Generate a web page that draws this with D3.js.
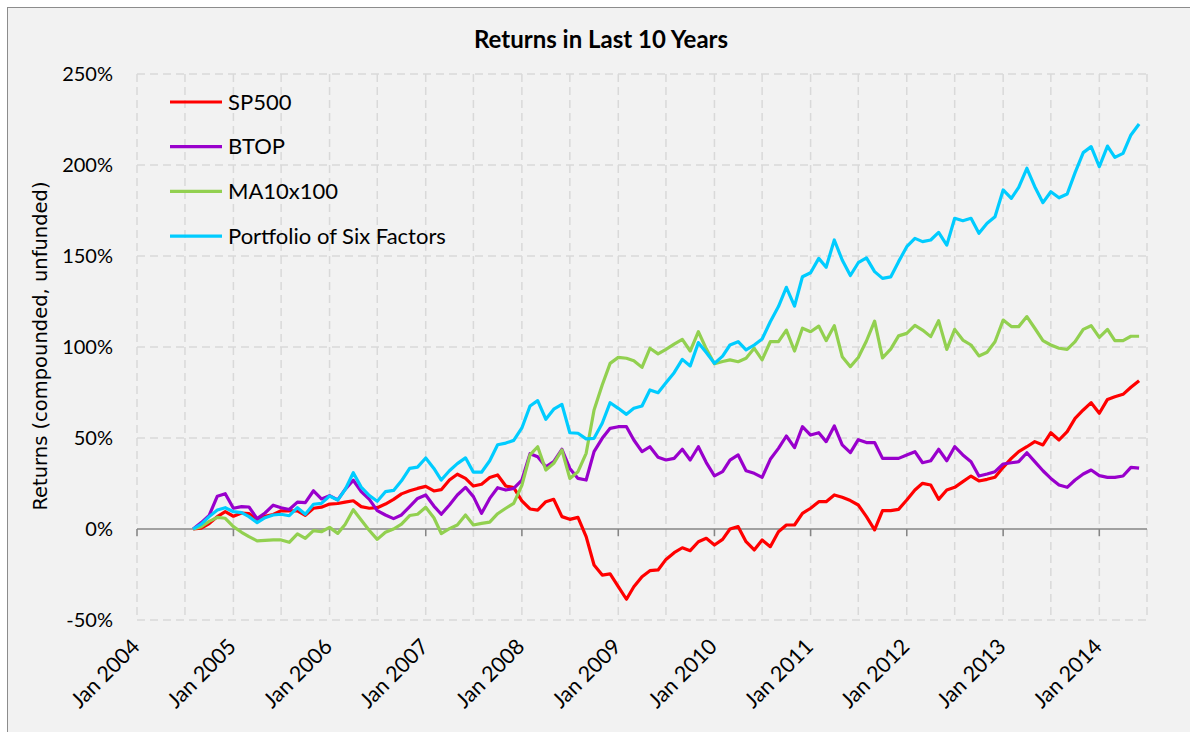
<!DOCTYPE html>
<html>
<head>
<meta charset="utf-8">
<script src="https://cdn.jsdelivr.net/npm/d3@7"></script>
<style>
  body { margin: 0; background: #fff; }
  svg text { font-family: Lato, "Open Sans", sans-serif; fill: #000; }
</style>
</head>
<body>
<script>
// monthly returns (%), Aug 2004 .. Jun 2014
const startMonth = new Date(2004, 7, 1);
const seriesNames = ["SP500", "BTOP", "MA10x100", "Portfolio of Six Factors"];
const seriesColors = ["#ff0000", "#9900cc", "#92d050", "#00ccff"];

const sp500 = [0,0.5,3,6.8,9.5,7,8.8,8.5,5,7,
  8,10,10,10,7.5,11.4,12,13.7,14,14.8,
  15.5,12.3,11.4,11.7,13.7,16.3,19.3,21,22.3,23.4,
  20.9,21.6,26.9,30.1,27.8,23.6,24.6,28.3,29.7,23.6,
  22.7,15.5,11,10.4,15,16.3,6.8,5.3,6.4,-4.2,
  -19.8,-25.3,-24.7,-31.7,-38.6,-31.7,-26.2,-22.9,-22.5,-16.7,
  -13,-10.3,-11.9,-7,-5.1,-8.8,-5.7,0,1.3,-7,
  -11.5,-6,-9.7,-1.5,2.2,2.2,8.6,11.4,15,15,
  18.7,17.4,15.6,13.2,6.8,-0.5,10.1,10.1,10.8,15.9,
  21.4,25.1,24.2,16.3,21.4,22.9,26,29.1,26.4,27.3,
  28.4,33.9,38.8,42.5,45.2,48,46.2,52.9,48.9,53.5,
  60.8,65.4,69.4,63.6,71.2,72.7,74,77.9,81.5];

const btop = [0,3.5,7.5,18,19.4,11.4,12.3,12.1,5.7,8.8,
  13.1,11.7,10.7,14.8,14.5,21,16.5,18.3,16,21.8,
  26.8,20.5,16.3,10.1,7.7,5.7,7.7,12.3,16.8,18.7,
  12.6,8.1,13.2,18.7,22.9,17.8,8.6,16.8,22.7,21.4,
  22.3,26.9,41.4,39.7,34.2,37,43.8,33.3,27.8,26.9,
  42.5,49.8,55.3,56.2,56.2,48.9,42.5,45.2,39.4,37.9,
  38.8,43.8,37.9,45.2,36.5,29.2,31.5,37.9,40.7,32,
  30.6,28.4,38.3,44.3,51.1,44.7,56.2,51.6,52.9,48,
  56.6,46.2,42,49.1,47.5,47.5,38.8,38.8,38.8,40.7,
  42.5,36.4,37.5,43.8,37.5,45.2,40.7,37,29.1,30.2,
  31.5,35.7,36.4,37,41.9,37,32,27.8,24.2,22.9,
  26.9,30.2,32.4,29.3,28.4,28.4,29.1,33.9,33.4];

const ma10x100 = [0,1.3,4.2,6.4,5.9,1.3,-1.8,-4.2,-6.5,-6.2,
  -6,-6,-7.3,-2.7,-5.1,-0.9,-1.5,0.9,-2.4,2.5,
  10.6,4.9,-0.8,-5.7,-1.8,0,2.7,7.4,8.1,11.9,
  6.2,-2.5,0.2,2.2,7.7,2.2,3.1,3.8,8.4,11.4,
  14.1,24,40.7,45.2,32.4,36.1,43.4,27.8,31.5,41.6,
  65.4,79.1,91,94.3,93.8,92.5,88.8,99.3,96.2,98.7,
  101.6,104.2,97.8,108.4,99,90.8,92,92.9,91.9,93.8,
  99.3,92.9,102.9,102.9,109.3,97.8,110.3,108.4,111.5,103.5,
  111.7,94.7,89.2,94.2,103.3,114.2,94,98.8,106.1,107.5,
  111.9,109.3,105.7,114.5,98.7,109.7,103.8,101.1,95.1,97.1,
  102.9,114.8,111.2,111.2,116.7,110.3,103.5,101.1,99.3,98.7,
  102.9,109.7,111.7,105.3,109.7,103.5,103.5,105.9,105.9];

const sixFactors = [0,2.7,6.8,10.4,11.7,9.5,9,6.8,3.5,6.2,
  7.7,8.1,7.3,11.7,8.1,13.6,14.1,18.1,15.9,21.6,
  30.9,23,18.4,15.2,20.5,21.2,26.5,33.3,34,39,
  33.3,26.9,32,35.9,39.1,31.2,31.2,37.5,46.3,47.2,
  48.7,55.5,67.6,70.5,60.3,65.8,68.5,52.9,52.6,49.5,
  49.8,58.1,69.4,66.3,63,66.3,67.6,76.4,74.9,80.4,
  85.9,93.2,89.6,102.4,97,91,95,101.1,102.9,98.4,
  101.1,104.4,113.9,122.2,132.8,122.5,138.6,140.8,148.7,143.8,
  158.8,147.8,139.3,146.3,149,141.4,137.7,138.5,146.9,155.1,
  159.7,157.9,158.8,163,156,170.7,169.4,170.7,162.5,168,
  171.6,186.3,181.7,187.7,198.2,188.1,179.3,185.3,182,184.1,
  195.8,206.8,210.1,199.1,210.4,204.2,206.4,216.5,222.5];

const yTicks = [-50, 0, 50, 100, 150, 200, 250];

const width = 1190, height = 732;
const svg = d3.select("body").append("svg")
  .attr("width", width).attr("height", height);

// chart area
svg.append("rect")
  .attr("x", 7.5).attr("y", 7.5).attr("width", 1190).attr("height", 740)
  .attr("fill", "#f2f2f2").attr("stroke", "#8c8c8c").attr("stroke-width", 1);

const x = d3.scaleTime()
  .domain([new Date(2004, 0, 1), new Date(2014, 6, 1)])
  .range([137, 1147]);
const y = d3.scaleLinear().domain([-50, 250]).range([620, 74]);

const months = d3.timeMonth.range(startMonth, d3.timeMonth.offset(startMonth, sp500.length));

// gridlines
const grid = svg.append("g")
  .attr("stroke", "#d9d9d9").attr("stroke-width", 1.5).attr("stroke-dasharray", "8,5");
grid.selectAll("line.h")
  .data(yTicks.filter(d => d !== 0))
  .enter().append("line")
  .attr("x1", x.range()[0]).attr("x2", x.range()[1])
  .attr("y1", d => y(d)).attr("y2", d => y(d));
grid.selectAll("line.v")
  .data(d3.timeMonth.every(6).range(x.domain()[0], d3.timeDay.offset(x.domain()[1], 1)))
  .enter().append("line")
  .attr("x1", d => x(d)).attr("x2", d => x(d))
  .attr("y1", y(250)).attr("y2", y(-50));

// zero axis with yearly ticks
const years = d3.timeYear.range(new Date(2004, 0, 1), new Date(2014, 6, 1));
svg.append("line")
  .attr("x1", x.range()[0]).attr("x2", x.range()[1])
  .attr("y1", y(0)).attr("y2", y(0))
  .attr("stroke", "#868686").attr("stroke-width", 1.5);
svg.selectAll("line.tick")
  .data(years)
  .enter().append("line")
  .attr("x1", d => x(d)).attr("x2", d => x(d))
  .attr("y1", y(0)).attr("y2", y(0) + 7)
  .attr("stroke", "#868686").attr("stroke-width", 1.5);

// y tick labels
svg.selectAll("text.ytick")
  .data(yTicks)
  .enter().append("text")
  .attr("x", 113).attr("y", d => y(d))
  .attr("dy", "0.35em").attr("text-anchor", "end")
  .style("font-size", "20px")
  .text(d => d + "%");

// x tick labels
const fmt = d3.timeFormat("Jan %Y");
svg.selectAll("text.xtick")
  .data(years)
  .enter().append("text")
  .attr("transform", d => `translate(${x(d) + 4},${648}) rotate(-45)`)
  .attr("text-anchor", "end")
  .style("font-size", "21.5px")
  .text(d => fmt(d));

// lines
const seriesData = [sp500, btop, ma10x100, sixFactors];
const line = d3.line()
  .x((d, i) => x(months[i]))
  .y(d => y(d));
svg.selectAll("path.series")
  .data(seriesData)
  .enter().append("path")
  .attr("d", d => line(d))
  .attr("fill", "none")
  .attr("stroke", (d, i) => seriesColors[i])
  .attr("stroke-width", 3.2)
  .attr("stroke-linejoin", "round");

// title
svg.append("text")
  .attr("x", 601).attr("y", 48)
  .attr("text-anchor", "middle")
  .style("font-size", "24px").style("font-weight", "bold")
  .text("Returns in Last 10 Years");

// y axis title
svg.append("text")
  .attr("transform", `translate(47,346) rotate(-90)`)
  .attr("text-anchor", "middle")
  .style("font-family", "'DejaVu Sans', Verdana, sans-serif")
  .style("font-size", "19.5px")
  .text("Returns (compounded, unfunded)");

// legend
const legend = svg.append("g").attr("transform", "translate(170,102)");
seriesNames.forEach((name, i) => {
  const yOffset = i * 44.7;
  legend.append("line")
    .attr("x1", 0).attr("x2", 52).attr("y1", yOffset).attr("y2", yOffset)
    .attr("stroke", seriesColors[i]).attr("stroke-width", 3.2);
  legend.append("text")
    .attr("x", 58).attr("y", yOffset).attr("dy", "0.35em")
    .style("font-size", "22px")
    .text(name);
});
</script>
</body>
</html>
